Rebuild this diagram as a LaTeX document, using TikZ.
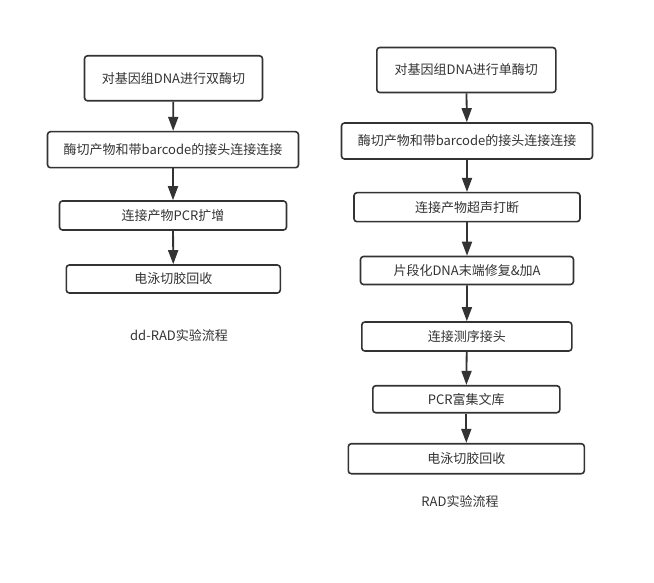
\documentclass[tikz,border=0pt]{standalone}
\usepackage{fontspec}
\usepackage{tikz}
\usetikzlibrary{positioning, arrows.meta}
\newfontfamily\cjk{Noto Sans CJK SC}
\definecolor{ink}{HTML}{333333}

\tikzset{
  stepbox/.style={draw=ink, line width=1.6pt, rounded corners=3pt, fill=white,
    text=ink, font=\cjk\fontsize{13}{15}\selectfont, inner sep=0pt},
  caption/.style={text=ink, font=\cjk\fontsize{13}{15}\selectfont},
  flow/.style={draw=ink, line width=1.8pt, -{Triangle[length=14pt,width=10pt]}}
}

\begin{document}
\begin{tikzpicture}[x=1pt, y=-1pt]
            \useasboundingbox (0, 0) rectangle (654, 583);

            % dd-RAD
            \node [stepbox, minimum width=178pt, minimum height=45pt] (L1) at (173.5, 78.3) {对基因组DNA进行双酶切};
            \node [stepbox, minimum width=251pt, minimum height=36pt] (L2) at (173, 149.7) {酶切产物和带barcode的接头连接连接};
            \node [stepbox, minimum width=227pt, minimum height=29pt] (L3) at (173, 215.5) {连接产物PCR扩增};
            \node [stepbox, minimum width=214pt, minimum height=28pt] (L4) at (173.3, 279) {电泳切胶回收};
            \node [caption] (Lcap) at (179, 336) {dd-RAD实验流程};

            \draw [flow] (L1) -- (L2);
            \draw [flow] (L2) -- (L3);
            \draw [flow] (L3) -- (L4);

            % RAD
            \node [stepbox, minimum width=179pt, minimum height=45pt] (R1) at (466.3, 70) {对基因组DNA进行单酶切};
            \node [stepbox, minimum width=251pt, minimum height=36pt] (R2) at (467, 141) {酶切产物和带barcode的接头连接连接};
            \node [stepbox, minimum width=226pt, minimum height=29pt] (R3) at (467, 207.2) {连接产物超声打断};
            \node [stepbox, minimum width=213pt, minimum height=28pt] (R4) at (467, 270.5) {片段化DNA末端修复\&加A};
            \node [stepbox, minimum width=210pt, minimum height=29pt] (R5) at (466.8, 336.5) {连接测序接头};
            \node [stepbox, minimum width=187pt, minimum height=27pt] (R6) at (466.3, 399.2) {PCR富集文库};
            \node [stepbox, minimum width=236pt, minimum height=30pt] (R7) at (466.3, 458.7) {电泳切胶回收};
            \node [caption] (Rcap) at (460, 501) {RAD实验流程};

            \draw [flow] (R1) -- (R2);
            \draw [flow] (R2) -- (R3);
            \draw [flow] (R3) -- (R4);
            \draw [flow] (R4) -- (R5);
            \draw [flow] (R5) -- (R6);
            \draw [flow] (R6) -- (R7);
        \end{tikzpicture}
\end{document}
